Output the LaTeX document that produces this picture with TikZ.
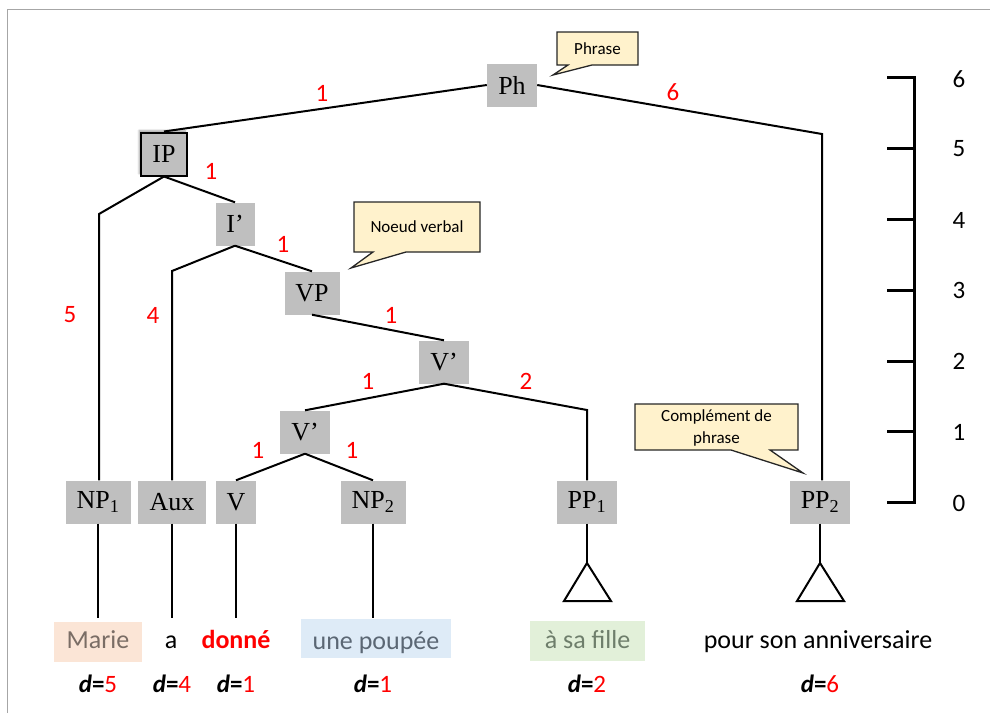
\documentclass[tikz,border=0pt]{standalone}
\usepackage{fontspec}
\setmainfont{Liberation Serif}
\newfontfamily\calib{Carlito}
\usetikzlibrary{shadows.blur}
\definecolor{boxgray}{HTML}{BFBFBF}
\definecolor{callfill}{HTML}{FFF2CC}
\definecolor{peach}{HTML}{FBE5D6}
\definecolor{lblue}{HTML}{DEEBF7}
\definecolor{lgreen}{HTML}{E2F0D9}
\definecolor{framegray}{HTML}{A6A6A6}
\definecolor{mariecol}{HTML}{7A6D65}
\definecolor{poupcol}{HTML}{5B6774}
\definecolor{fillecol}{HTML}{6E7E6B}
\begin{document}
\begin{tikzpicture}[x=1pt,y=-1pt,
  cat/.style={fill=boxgray, inner sep=0pt, minimum height=43pt, font=\fontsize{26}{30}\selectfont},
  edge/.style={line width=2pt, line join=miter},
  num/.style={text=red, font=\calib\fontsize{25}{30}\selectfont, inner sep=0pt},
  scalenum/.style={font=\calib\fontsize{25}{30}\selectfont, inner sep=0pt},
  word/.style={font=\calib\fontsize{26}{30}\selectfont, inner sep=0pt, minimum height=40pt, text height=18pt, text depth=5pt},
  dval/.style={font=\calib\fontsize{25}{30}\selectfont, inner sep=0pt},
  callbox/.style={fill=callfill, draw=black!85, line width=1.3pt, line join=miter},
  calltext/.style={font=\calib\fontsize{17}{22}\selectfont, align=center, inner sep=0pt},
  scaleline/.style={line width=3pt}
]
\useasboundingbox (0,0) rectangle (990,713);
% frame
\draw[framegray, line width=1pt] (7,713) -- (7,9) -- (990,9);

% category nodes
\node[cat, minimum width=50pt] (Ph) at (512,85) {Ph};
\node[cat, minimum width=46pt, draw=black, line width=2pt,
  blur shadow={shadow xshift=-2pt, shadow yshift=2pt, shadow opacity=35, shadow blur steps=6}] (IP) at (164,154) {IP};
\node[cat, minimum width=39pt] (Ib) at (235,224) {I’};
\node[cat, minimum width=55pt] (VP) at (312,293) {VP};
\node[cat, minimum width=50pt] (Vb1) at (444,362) {V’};
\node[cat, minimum width=50pt] (Vb2) at (305,432) {V’};
\node[cat, minimum width=65pt] (NP1) at (98,502) {NP\textsubscript{1}};
\node[cat, minimum width=68pt] (Aux) at (172,502) {Aux};
\node[cat, minimum width=40pt] (V) at (236,502) {V};
\node[cat, minimum width=65pt] (NP2) at (373,502) {NP\textsubscript{2}};
\node[cat, minimum width=60pt] (PP1) at (587,502) {PP\textsubscript{1}};
\node[cat, minimum width=60pt] (PP2) at (820,502) {PP\textsubscript{2}};

% elbow coordinates
\coordinate (cPP2) at (822,134);
\coordinate (cNP1) at (99,214);
\coordinate (cAux) at (172,271);
\coordinate (cPP1) at (587,410);
\coordinate (wNP1) at (98,618);
\coordinate (wAux) at (172,618);
\coordinate (wV) at (236,618);
\coordinate (wNP2) at (373,618);
\coordinate (t1) at (587,563);
\coordinate (t2) at (820,563);

% edges
\draw[edge] (Ph.west) -- (IP.north);
\draw[edge] (Ph.east) -- (cPP2) -- (PP2.north -| cPP2);
\draw[edge] (IP.south) -- (cNP1) -- (NP1.north -| cNP1);
\draw[edge] (IP.south) -- (Ib.north);
\draw[edge] (Ib.south) -- (cAux) -- (Aux.north);
\draw[edge] (Ib.south) -- (VP.north);
\draw[edge] (VP.south) -- (Vb1.north);
\draw[edge] (Vb1.south) -- (Vb2.north);
\draw[edge] (Vb1.south) -- (cPP1) -- (PP1.north);
\draw[edge] (Vb2.south) -- (V.north);
\draw[edge] (Vb2.south) -- (NP2.north);
\draw[edge] (NP1.south) -- (wNP1);
\draw[edge] (Aux.south) -- (wAux);
\draw[edge] (V.south) -- (wV);
\draw[edge] (NP2.south) -- (wNP2);
\draw[edge] (PP1.south) -- (t1);
\draw[edge] (PP2.south) -- (t2);
\draw[edge] (t1) -- ++(24,38) -- ++(-47,0) -- cycle;
\draw[edge] (t2) -- ++(24,38) -- ++(-47,0) -- cycle;

% red distance labels
\node[num] (l1) at (322,93) {1};
\node[num] (l2) at (673,92) {6};
\node[num] (l3) at (211,171) {1};
\node[num] (l4) at (283,244) {1};
\node[num] (l5) at (391,315) {1};
\node[num] (l6) at (368,381) {1};
\node[num] (l7) at (526,381) {2};
\node[num] (l8) at (258,450) {1};
\node[num] (l9) at (352,450) {1};
\node[num] (l10) at (70,315) {5};
\node[num] (l11) at (153,315) {4};

% scale
\draw[scaleline] (887,77) -- (914,77) -- (914,502) -- (887,502);
\foreach \i/\yy in {1/148,2/219,3/290,4/361,5/431}{
  \draw[scaleline] (887,\yy) -- (914,\yy);
}
\foreach \n/\yy in {6/79,5/149,4/220,3/290,2/361,1/432,0/503}{
  \node[scalenum] (s\n) at (959,\yy) {\n};
}

% words
\node[word, fill=peach, minimum width=88pt, text=mariecol] (wd1) at (98,642) {Marie};
\node[word] (wd2) at (171,642) {a};
\node[word, text=red] (wd3) at (236,642) {\textbf{donné}};
\node[word, fill=lblue, minimum width=150pt, minimum height=39pt, text height=26pt, text=poupcol] (wd4) at (376,638.5) {une poupée};
\node[word, fill=lgreen, minimum width=115pt, text height=20pt, text=fillecol] (wd5) at (587.5,641) {à sa fille};
\node[word] (wd6) at (818,642) {pour son anniversaire};

% d values
\node[dval] (d1) at (98,684) {\textbf{\textit{d}=}\textcolor{red}{5}};
\node[dval] (d2) at (172,684) {\textbf{\textit{d}=}\textcolor{red}{4}};
\node[dval] (d3) at (236,684) {\textbf{\textit{d}=}\textcolor{red}{1}};
\node[dval] (d4) at (373,684) {\textbf{\textit{d}=}\textcolor{red}{1}};
\node[dval] (d5) at (587,684) {\textbf{\textit{d}=}\textcolor{red}{2}};
\node[dval] (d6) at (820,684) {\textbf{\textit{d}=}\textcolor{red}{6}};

% callouts
\draw[callbox] (557,32) -- (638,32) -- (638,65) -- (592,65) -- (553,75) -- (568,65) -- (557,65) -- cycle;
\node[calltext] (c1) at (597.5,48.5) {Phrase};
\draw[callbox] (354,202) -- (480,202) -- (480,252) -- (406,252) -- (351,268) -- (373,252) -- (354,252) -- cycle;
\node[calltext] (c2) at (417,227) {Noeud verbal};
\draw[callbox] (635,404) -- (798,404) -- (798,450) -- (770,450) -- (803,473) -- (731,450) -- (635,450) -- cycle;
\node[calltext] (c3) at (716.5,427.5) {Complément de\\phrase};
\end{tikzpicture}
\end{document}
